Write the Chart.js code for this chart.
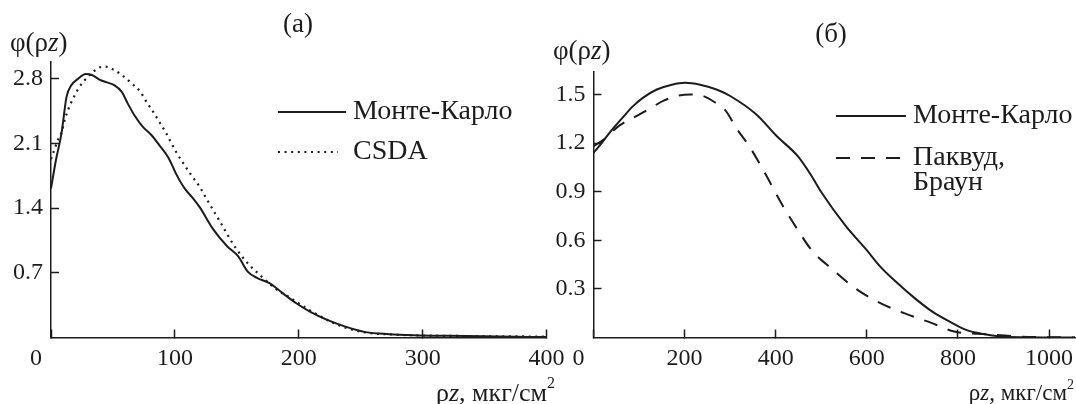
<!DOCTYPE html>
<html>
<head>
<meta charset="utf-8">
<script src="https://cdn.jsdelivr.net/npm/chart.js@4.4.1/dist/chart.umd.min.js"></script>
<style>
  html, body { margin: 0; padding: 0; background: #fff; }
  #wrap { position: relative; width: 1076px; height: 404px; }
  canvas { position: absolute; left: 0; top: 0; }
</style>
</head>
<body>
<div id="wrap">
  <canvas id="chartA" width="1076" height="404"></canvas>
  <canvas id="chartB" width="1076" height="404"></canvas>
</div>
<script>
// panel (а): depth distribution, 0..400 мкг/см2
const xTicksA = [0, 100, 200, 300, 400];
const yTicksA = [0.7, 1.4, 2.1, 2.8];
const mcXA = [0, 4, 8.5, 12.5, 16.5, 22, 28, 33, 39, 45, 51, 57, 62, 68, 74, 81, 88, 95, 101, 108, 115, 120, 131, 142, 151, 159, 167, 176, 187, 198, 209, 223, 237, 254, 273, 293, 321, 362, 400];
const mcYA = [1.61, 1.92, 2.21, 2.60, 2.73, 2.80, 2.85, 2.84, 2.79, 2.76, 2.73, 2.66, 2.53, 2.39, 2.28, 2.19, 2.07, 1.94, 1.77, 1.61, 1.50, 1.41, 1.17, 0.99, 0.88, 0.71, 0.64, 0.59, 0.48, 0.37, 0.28, 0.19, 0.12, 0.058, 0.036, 0.025, 0.018, 0.01, 0.005];
const csdaX = [0, 3, 5, 8.5, 11, 14, 18, 23, 27, 33, 39, 44, 50, 57, 65, 72, 77, 82.5, 88, 93, 100, 107, 113, 120, 126, 137, 148, 159, 170, 181, 193, 201, 212, 223, 237, 254, 279, 300, 350, 400];
const csdaY = [1.93, 2.04, 2.12, 2.22, 2.35, 2.47, 2.59, 2.71, 2.78, 2.86, 2.92, 2.93, 2.90, 2.84, 2.75, 2.66, 2.55, 2.44, 2.32, 2.21, 2.03, 1.88, 1.76, 1.63, 1.49, 1.24, 0.99, 0.80, 0.66, 0.53, 0.43, 0.36, 0.27, 0.19, 0.11, 0.054, 0.03, 0.022, 0.014, 0.01];

// panel (б): 0..1000 мкг/см2
const xTicksB = [0, 200, 400, 600, 800, 1000];
const yTicksB = [0.3, 0.6, 0.9, 1.2, 1.5];
const mcXB = [0, 18, 40, 62, 84, 109, 139, 172, 201, 234, 270, 300, 357, 402, 448, 478, 501, 554, 599, 629, 667, 705, 743, 781, 818, 856, 894, 950, 1000, 1057];
const mcYB = [1.14, 1.20, 1.28, 1.35, 1.42, 1.48, 1.53, 1.56, 1.572, 1.56, 1.53, 1.49, 1.377, 1.243, 1.12, 1.0, 0.893, 0.687, 0.542, 0.439, 0.336, 0.243, 0.161, 0.099, 0.047, 0.021, 0.006, 0.001, 0, 0];
const pbX = [0, 21.5, 58, 102, 128, 153, 183, 212, 241, 267, 290, 314, 342, 376, 414, 448, 478, 527, 569, 622, 682, 739, 792, 864, 932, 992, 1057];
const pbY = [1.18, 1.22, 1.31, 1.378, 1.42, 1.46, 1.49, 1.50, 1.49, 1.45, 1.40, 1.29, 1.18, 1.016, 0.82, 0.666, 0.542, 0.414, 0.315, 0.223, 0.150, 0.093, 0.037, 0.02, 0.006, 0.002, 0];

const INK = '#1c1c1c';
const FONT = '"Liberation Serif", "Times New Roman", serif';
const W = 1076, H = 404;

Chart.defaults.font.family = FONT;
Chart.defaults.color = INK;

function zip(xs, ys) {
    return xs.map((x, i) => ({ x: x, y: ys[i] }));
}

// text with italic / superscript pieces
function drawRich(ctx, item) {
    const fontFor = st => (st === 'i' ? 'italic ' : '') +
        (st === 's' ? Math.round(item.size * 0.62) : item.size) + 'px ' + FONT;
    let total = 0;
    const widths = item.parts.map(([t, st]) => {
        ctx.font = fontFor(st);
        const w = ctx.measureText(t).width;
        total += w;
        return w;
    });
    let x = item.align === 'center' ? item.x - total / 2 : item.align === 'right' ? item.x - total : item.x;
    ctx.textAlign = 'left';
    ctx.textBaseline = 'middle';
    item.parts.forEach(([t, st], i) => {
        ctx.font = fontFor(st);
        ctx.fillText(t, x, st === 's' ? item.y - item.size * 0.38 : item.y);
        x += widths[i];
    });
}

const panelText = {
    id: 'panelText',
    afterDraw(chart, args, opts) {
        const ctx = chart.ctx;
        ctx.save();
        ctx.fillStyle = INK;
        opts.texts.forEach(t => drawRich(ctx, t));

        const lg = opts.legend;
        chart.data.datasets.forEach((ds, i) => {
            const row = lg.rows[i];
            ctx.strokeStyle = ds.borderColor;
            ctx.lineWidth = ds.borderWidth;
            ctx.setLineDash(ds.borderDash || []);
            ctx.beginPath();
            ctx.moveTo(lg.x1, row.y);
            ctx.lineTo(row.x2 || lg.x2, row.y);
            ctx.stroke();
            ctx.setLineDash([]);
            ds.label.split('\n').forEach((line, k) => {
                drawRich(ctx, { x: lg.textX, y: row.y + k * lg.lineGap, align: 'left', size: lg.size, parts: [[line]] });
            });
        });
        ctx.restore();
    }
};

const xTitle = [['ρ'], ['z', 'i'], [', мкг/см'], ['2', 's']];
const yTitle = [['φ(ρ'], ['z', 'i'], [')']];

function axisStyle() {
    return {
        grid: { drawOnChartArea: false, tickLength: -8, tickColor: INK, tickWidth: 1.5 },
        border: { color: INK, width: 1.5 }
    };
}

function makePanel(id, p) {
    return new Chart(document.getElementById(id), {
        type: 'line',
        data: { datasets: p.datasets },
        options: {
            responsive: false,
            animation: false,
            events: [],
            layout: { padding: { left: 0, top: p.top, right: W - p.right, bottom: 0 } },
            elements: { point: { radius: 0 } },
            scales: {
                x: {
                    type: 'linear',
                    min: 0,
                    max: p.xMax,
                    afterFit: s => {
                        s.height = H - p.bottom;
                        s.paddingLeft = 0;
                        s.paddingRight = 0;
                    },
                    afterBuildTicks: s => { s.ticks = p.xTicks.map(v => ({ value: v })); },
                    ticks: {
                        autoSkip: false,
                        maxRotation: 0,
                        padding: 15,
                        font: { size: 24 },
                        callback: v => (v === 0 ? '0     ' : String(v))
                    },
                    ...axisStyle()
                },
                y: {
                    type: 'linear',
                    min: 0,
                    max: p.yMax,
                    afterFit: s => {
                        s.width = p.left;
                        s.paddingTop = 0;
                        s.paddingBottom = 0;
                    },
                    afterBuildTicks: s => { s.ticks = p.yTicks.map(v => ({ value: v })); },
                    ticks: {
                        padding: 16,
                        font: { size: 24 },
                        callback: v => v.toFixed(1)
                    },
                    ...axisStyle()
                }
            },
            plugins: {
                legend: { display: false },
                tooltip: { enabled: false },
                panelText: { texts: p.texts, legend: p.legend }
            }
        },
        plugins: [panelText]
    });
}

makePanel('chartA', {
    left: 51, right: 546.5, top: 62, bottom: 337.5,
    xMax: 400, yMax: 2.98,
    xTicks: xTicksA, yTicks: yTicksA,
    datasets: [
        {
            label: 'Монте-Карло',
            data: zip(mcXA, mcYA),
            borderColor: INK,
            borderWidth: 2,
            cubicInterpolationMode: 'monotone'
        },
        {
            label: 'CSDA',
            data: zip(csdaX, csdaY),
            borderColor: INK,
            borderWidth: 2.2,
            borderDash: [2, 4.6],
            cubicInterpolationMode: 'monotone'
        }
    ],
    texts: [
        { x: 298, y: 25, align: 'center', size: 27, parts: [['(а)']] },
        { x: 10, y: 44, align: 'left', size: 27, parts: yTitle },
        { x: 436, y: 394, align: 'left', size: 26, parts: xTitle }
    ],
    legend: { x1: 278, x2: 346, textX: 353, size: 28, lineGap: 25, rows: [{ y: 112 }, { y: 152, x2: 338 }] }
});

makePanel('chartB', {
    left: 593.5, right: 1075, top: 71.7, bottom: 337.5,
    xMax: 1057, yMax: 1.64,
    xTicks: xTicksB, yTicks: yTicksB,
    datasets: [
        {
            label: 'Монте-Карло',
            data: zip(mcXB, mcYB),
            borderColor: INK,
            borderWidth: 2,
            cubicInterpolationMode: 'monotone'
        },
        {
            label: 'Паквуд,\nБраун',
            data: zip(pbX, pbY),
            borderColor: INK,
            borderWidth: 2,
            borderDash: [14, 11],
            cubicInterpolationMode: 'monotone'
        }
    ],
    texts: [
        { x: 831, y: 35, align: 'center', size: 27, parts: [['(б)']] },
        { x: 553, y: 52, align: 'left', size: 27, parts: yTitle },
        { x: 1074, y: 394, align: 'right', size: 23, parts: xTitle }
    ],
    legend: { x1: 836, x2: 906, textX: 913, size: 28, lineGap: 25, rows: [{ y: 116 }, { y: 158 }] }
});
</script>
</body>
</html>
